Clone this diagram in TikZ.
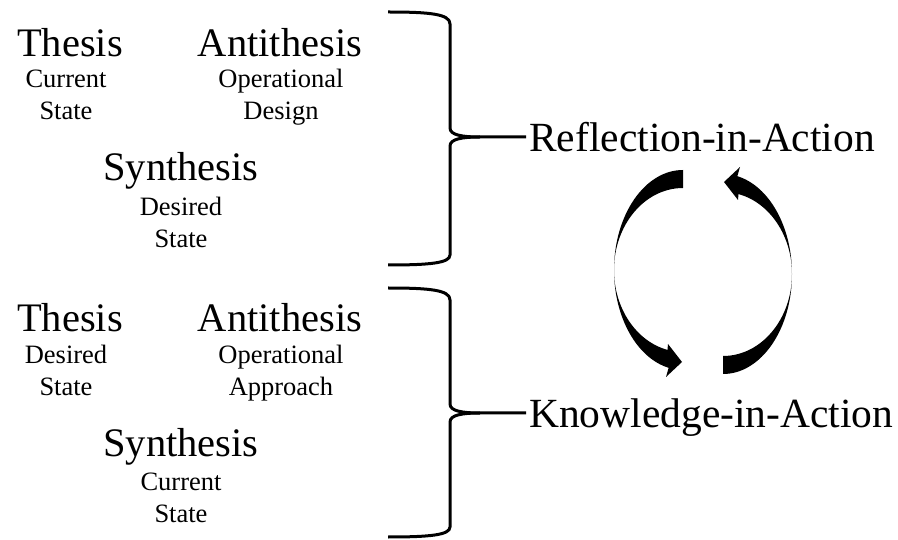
\documentclass[tikz,border=0pt]{standalone}
\usepackage{fontspec}
\setmainfont{Liberation Serif}
\usetikzlibrary{positioning}

\tikzset{
  big/.style={font=\fontsize{40.5}{48}\selectfont, inner sep=0pt, anchor=base},
  small/.style={font=\fontsize{26.5}{32}\selectfont, align=center, inner sep=0pt, anchor=base},
  action/.style={font=\fontsize{41.5}{48}\selectfont, inner sep=3pt, text depth=0pt, anchor=west},
  brace/.style={line width=3pt, line join=round},
  loop/.style={fill=black}
}

\begin{document}
\begin{tikzpicture}[x=1pt,y=1pt]
  \useasboundingbox (0,0) rectangle (898,539);

  % first group
  \node [big] (th1) at (70,482) {Thesis};
  \node [small] (th1s) at (66,419) {Current\\State};
  \node [big] (ant1) at (280,482) {Antithesis};
  \node [small] (ant1s) at (281,419) {Operational\\Design};
  \node [big] (syn1) at (181,358) {Synthesis};
  \node [small] (syn1s) at (181,291) {Desired\\State};

  % second group
  \node [big] (th2) at (70,207) {Thesis};
  \node [small] (th2s) at (66,143) {Desired\\State};
  \node [big] (ant2) at (280,207) {Antithesis};
  \node [small] (ant2s) at (281,143) {Operational\\Approach};
  \node [big] (syn2) at (181,83) {Synthesis};
  \node [small] (syn2s) at (181,17) {Current\\State};

  \node [action] (ref) at (526,402) {Reflection-in-Action};
  \node [action] (kno) at (526,126) {Knowledge-in-Action};

  % braces
  \draw [brace] (388,527) .. controls (430,527) and (450,525) .. (450,515)
    -- (450,411) .. controls (450,404) and (462,402) .. (480,402) -- (ref.west);
  \draw [brace] (480,402) .. controls (462,402) and (450,400) .. (450,393)
    -- (450,284) .. controls (450,276) and (430,274) .. (388,274);
  \draw [brace] (388,251) .. controls (430,251) and (450,249) .. (450,239)
    -- (450,135) .. controls (450,128) and (462,126) .. (480,126) -- (kno.west);
  \draw [brace] (480,126) .. controls (462,126) and (450,124) .. (450,117)
    -- (450,12) .. controls (450,4) and (430,2) .. (388,2);

  % the two turning arrows
  \foreach \turn in {0,180}
  {
    \begin{scope}[rotate around={\turn:(703,267)}, shift={(683,269)}]
      \fill [loop] (0,100)
        arc [start angle=90, end angle=180, x radius=69, y radius=100]
        arc [start angle=180, end angle=258, x radius=69, y radius=100]
        -- (-17,-107) -- (-1,-92) -- (-15,-74) -- (257:69 and 82)
        arc [start angle=257, end angle=180, x radius=69, y radius=82]
        arc [start angle=180, end angle=90, x radius=69, y radius=82]
        -- cycle;
    \end{scope}
  }
\end{tikzpicture}
\end{document}
